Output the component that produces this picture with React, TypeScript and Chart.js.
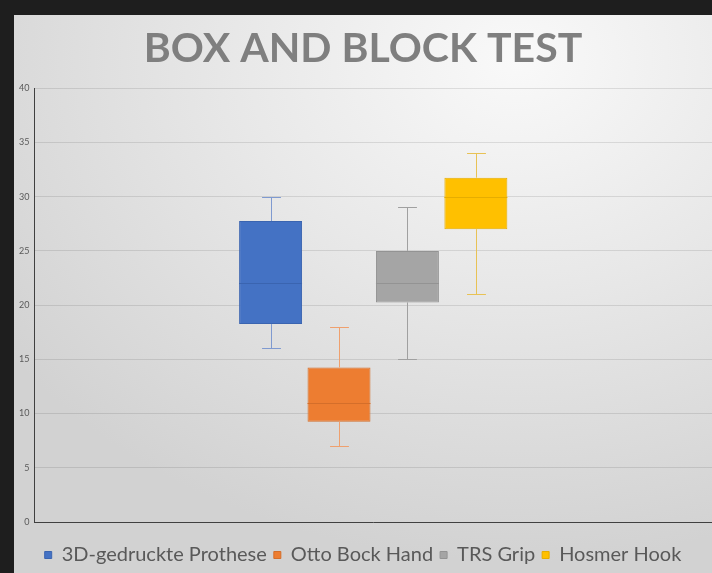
import React, { useEffect, useRef } from "react";
import { Chart, registerables } from "chart.js";

Chart.register(...registerables);

const categories = ["3D-gedruckte Prothese", "Otto Bock Hand", "TRS Grip", "Hosmer Hook"];
const mins = [16, 7, 15, 21];
const q1s = [18.25, 9.25, 20.25, 27];
const medians = [22, 11, 22, 30];
const q3s = [27.75, 14.25, 25, 31.75];
const maxs = [30, 18, 29, 34];
const fills = ["#4472C4", "#ED7D31", "#A5A5A5", "#FFC000"];
const borders = ["#3A64B0", "#D46E2A", "#939393", "#E6AD00"];
const whiskerColors = ["#7F9AD0", "#EFA06E", "#A0A0A0", "#E8C255"];
const yTicks = [0, 5, 10, 15, 20, 25, 30, 35, 40];

const whiskerPlugin = {
  id: "whiskers",
  afterDatasetsDraw(chart: any) {
    const ctx = chart.ctx;
    const y = chart.scales.y;
    ctx.save();
    chart.data.datasets.forEach((_ds: any, i: number) => {
      const meta = chart.getDatasetMeta(i);
      const bar: any = meta.data[0];
      if (!bar) return;
      const x = Math.round(bar.x) + 0.5;
      const w = bar.width;
      const cap = w * 0.3;
      const pMax = Math.round(y.getPixelForValue(maxs[i])) + 0.5;
      const pQ3 = y.getPixelForValue(q3s[i]);
      const pQ1 = y.getPixelForValue(q1s[i]);
      const pMin = Math.round(y.getPixelForValue(mins[i])) + 0.5;
      const pMed = Math.round(y.getPixelForValue(medians[i])) + 0.5;
      ctx.lineWidth = 1;
      ctx.strokeStyle = whiskerColors[i];
      ctx.beginPath();
      ctx.moveTo(x, pMax);
      ctx.lineTo(x, pQ3);
      ctx.moveTo(x, pQ1);
      ctx.lineTo(x, pMin);
      ctx.moveTo(x - cap / 2, pMax);
      ctx.lineTo(x + cap / 2, pMax);
      ctx.moveTo(x - cap / 2, pMin);
      ctx.lineTo(x + cap / 2, pMin);
      ctx.stroke();
      ctx.strokeStyle = borders[i];
      ctx.beginPath();
      ctx.moveTo(bar.x - w / 2, pMed);
      ctx.lineTo(bar.x + w / 2, pMed);
      ctx.stroke();
    });
    ctx.restore();
  },
};

export default function App() {
  const ref = useRef<HTMLCanvasElement | null>(null);
  useEffect(() => {
    if (!ref.current) return;
    const chart = new Chart(ref.current, {
      type: "bar",
      data: {
        labels: [""],
        datasets: categories.map((c, i) => ({
          label: c,
          data: [[q1s[i], q3s[i]]] as any,
          backgroundColor: fills[i],
          borderColor: borders[i],
          borderWidth: 1,
          borderSkipped: false,
          categoryPercentage: 0.404,
          barPercentage: 0.92,
        })),
      },
      options: {
        animation: false,
        responsive: true,
        maintainAspectRatio: false,
        layout: { padding: { left: 14, right: 0, top: 10, bottom: -2 } },
        plugins: {
          title: {
            display: true,
            text: "BOX AND BLOCK TEST",
            color: "#7F7F7F",
            font: { family: "Lato", size: 41, weight: "bold" },
            padding: { top: 14.5, bottom: 14.5 },
          },
          legend: {
            position: "bottom",
            labels: {
              color: "#595959",
              font: { family: "Lato", size: 20 },
              boxWidth: 7,
              boxHeight: 7,
              padding: 7,
            },
          },
          tooltip: { enabled: false },
        },
        scales: {
          x: {
            grid: { display: false },
            ticks: { display: false },
            border: { display: true, color: "#404040", width: 1 },
            afterFit: (s: any) => {
              s.height += 8;
            },
          },
          y: {
            min: 0,
            max: 40,
            afterBuildTicks: (s: any) => {
              s.ticks = yTicks.map((v) => ({ value: v }));
            },
            ticks: {
              color: "#595959",
              font: { family: "Lato", size: 9 },
              padding: 5,
            },
            grid: { color: "rgba(0,0,0,0.1)", drawTicks: false },
            border: { display: true, color: "#404040", width: 1 },
          },
        },
      },
      plugins: [whiskerPlugin],
    });
    return () => chart.destroy();
  }, []);

  return (
    <div style={{ position: "fixed", left: 0, top: 0, width: 712, height: 573, background: "#1E1E1E", overflow: "hidden" }}>
      <div
        style={{
          position: "absolute",
          left: 14,
          top: 15,
          right: 0,
          bottom: 0,
          background: "radial-gradient(ellipse 90% 90% at 72% 8%, #F9F9F9 0%, #E8E8E8 45%, #D2D2D2 100%)",
        }}
      />
      <div style={{ position: "absolute", left: 0, top: 0, width: 712, height: 573 }}>
        <canvas ref={ref} />
      </div>
    </div>
  );
}
